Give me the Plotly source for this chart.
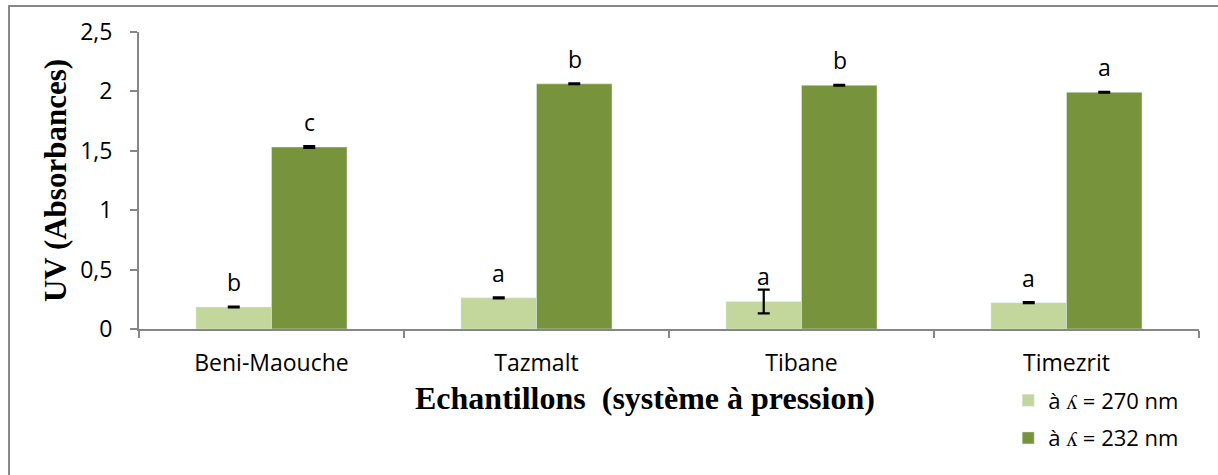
import plotly.graph_objects as go

categories = ["Beni-Maouche", "Tazmalt", "Tibane", "Timezrit"]
uv270 = [0.185, 0.262, 0.232, 0.222]
uv270_err = [0.004, 0.004, 0.10, 0.004]
uv232 = [1.532, 2.064, 2.052, 1.993]
uv232_err = [0.008, 0.004, 0.004, 0.004]
letters270 = ["b", "a", "a", "a"]
letters232 = ["c", "b", "b", "a"]
yticks = [0, 0.5, 1, 1.5, 2, 2.5]
yticklabels = ["0", "0,5", "1", "1,5", "2", "2,5"]

LIGHT = "#C3D69B"
DARK = "#77933C"
AXIS = "#868686"
TICKFONT = dict(family="Open Sans", size=23, color="#000000")

fig = go.Figure()
fig.add_trace(go.Bar(
    name="à ʎ = 270 nm", x=categories, y=uv270, marker_color=LIGHT,
    error_y=dict(type="data", array=uv270_err, color="black", thickness=2.2, width=6),
    legendgroup="g1",
))
fig.add_trace(go.Bar(
    name="à ʎ = 232 nm", x=categories, y=uv232, marker_color=DARK,
    error_y=dict(type="data", array=uv232_err, color="black", thickness=2.2, width=6),
    legendgroup="g2",
))

annotations = []
for cat, v, t in zip(categories, uv270, letters270):
    annotations.append(dict(x=cat, y=v, text=t, showarrow=False, xshift=-38, yshift=25,
                            yanchor="middle", font=dict(family="Open Sans", size=23, color="black")))
for cat, v, t in zip(categories, uv232, letters232):
    annotations.append(dict(x=cat, y=v, text=t, showarrow=False, xshift=38, yshift=25,
                            yanchor="middle", font=dict(family="Open Sans", size=23, color="black")))
annotations.append(dict(xref="paper", yref="paper", x=0.477, y=-0.232, xanchor="center",
                        yanchor="middle", showarrow=False,
                        text="<b>Echantillons  (système à pression)</b>",
                        font=dict(family="Liberation Serif", size=32, color="black")))

fig.update_layout(
    width=1218, height=475,
    margin=dict(l=139, r=19, t=32, b=146),
    paper_bgcolor="white", plot_bgcolor="white",
    barmode="group", bargap=0.43, bargroupgap=0,
    annotations=annotations,
    legend=dict(x=0.82, y=-0.17, xanchor="left", yanchor="top",
                font=dict(family="Open Sans", size=22, color="black"),
                tracegroupgap=6, bgcolor="rgba(0,0,0,0)"),
    showlegend=True,
    shapes=[dict(type="rect", xref="paper", yref="paper", x0=-0.1226, x1=1.03,
                 y0=-0.52, y1=1.0875, line=dict(color=AXIS, width=2), layer="below")],
)
fig.update_xaxes(
    showline=True, linecolor=AXIS, linewidth=2, ticks="outside", tickson="boundaries",
    ticklen=7, tickcolor=AXIS, tickwidth=2, tickfont=TICKFONT, showgrid=False,
    ticklabelstandoff=12,
)
fig.update_yaxes(
    range=[0, 2.5], tickvals=yticks, ticktext=yticklabels,
    showline=True, linecolor=AXIS, linewidth=2, ticks="outside", ticklen=7,
    tickcolor=AXIS, tickwidth=2, tickfont=TICKFONT, showgrid=False, zeroline=False,
    ticklabelstandoff=13,
    title=dict(text="<b>UV (Absorbances)</b>",
               font=dict(family="Liberation Serif", size=31, color="black"), standoff=4),
)

fig.write_html("out.html")
